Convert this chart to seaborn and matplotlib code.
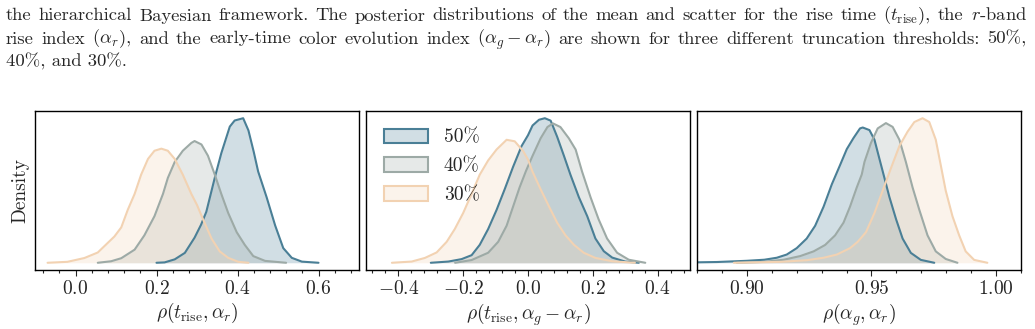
# Posterior densities of the correlation coefficients for three truncation thresholds

import numpy as np
import matplotlib
matplotlib.use('Agg')
import matplotlib.pyplot as plt
from matplotlib.patches import Patch
from matplotlib.ticker import AutoMinorLocator, MultipleLocator
from matplotlib.colors import to_rgba
import seaborn as sns

sns.set_style('ticks')
plt.rcParams['font.family'] = ['cmr10']
plt.rcParams['mathtext.fontset'] = 'cm'
plt.rcParams['axes.formatter.use_mathtext'] = True
plt.rcParams['axes.unicode_minus'] = True

labels = ['50%', '40%', '30%']
colors = ['#4a7f96', '#9daaa6', '#f2d2b2']

## rho(t_rise, alpha_r)
x1_50 = [0.20, 0.22, 0.245, 0.27, 0.294, 0.31, 0.323, 0.344, 0.36, 0.381, 0.393, 0.414, 0.427,
         0.44, 0.451, 0.472, 0.493, 0.513, 0.534, 0.559, 0.60]
y1_50 = [0, 0.02, 0.18, 0.52, 1.32, 2.0, 2.68, 4.48, 5.76, 7.16, 7.48, 7.6, 6.96,
         5.84, 4.8, 3.44, 1.96, 0.77, 0.26, 0.06, 0]
x1_40 = [0.055, 0.088, 0.113, 0.146, 0.170, 0.195, 0.216, 0.228, 0.245, 0.265, 0.286, 0.294,
         0.311, 0.327, 0.344, 0.36, 0.377, 0.398, 0.418, 0.439, 0.468, 0.52]
y1_40 = [0, 0.08, 0.24, 0.69, 1.44, 2.45, 3.62, 4.46, 5.3, 5.89, 6.3, 6.4,
         6.22, 5.63, 4.63, 3.62, 2.62, 1.61, 0.94, 0.35, 0.1, 0]
x1_30 = [-0.069, -0.02, 0.022, 0.055, 0.075, 0.096, 0.113, 0.129, 0.146, 0.162, 0.179, 0.195,
         0.212, 0.228, 0.245, 0.265, 0.286, 0.30, 0.315, 0.336, 0.356, 0.377, 0.402, 0.427]
y1_30 = [0, 0.05, 0.25, 0.54, 0.95, 1.38, 1.86, 2.78, 3.62, 4.63, 5.46, 5.89,
         6.0, 5.89, 5.46, 4.63, 3.62, 3.04, 2.28, 1.27, 0.6, 0.26, 0.05, 0]

## rho(t_rise, alpha_g - alpha_r)
x2_50 = [-0.30, -0.246, -0.205, -0.174, -0.149, -0.123, -0.097, -0.072, -0.046, -0.020, 0.0,
         0.014, 0.034, 0.052, 0.07, 0.09, 0.111, 0.131, 0.157, 0.183, 0.208, 0.234, 0.26, 0.30, 0.342]
y2_50 = [0, 0.04, 0.12, 0.25, 0.59, 1.11, 1.74, 2.42, 3.16, 3.84, 4.2,
         4.52, 4.71, 4.76, 4.68, 4.15, 3.52, 2.9, 2.16, 1.53, 0.8, 0.38, 0.17, 0.04, 0]
x2_40 = [-0.225, -0.174, -0.123, -0.092, -0.066, -0.046, -0.026, -0.006, 0.014, 0.039, 0.06,
         0.077, 0.10, 0.126, 0.147, 0.167, 0.193, 0.218, 0.244, 0.275, 0.311, 0.362]
y2_40 = [0, 0.09, 0.33, 0.69, 1.22, 1.85, 2.48, 3.03, 3.52, 4.1, 4.47,
         4.59, 4.47, 4.1, 3.73, 3.0, 2.16, 1.43, 0.8, 0.33, 0.1, 0]
x2_30 = [-0.42, -0.359, -0.318, -0.282, -0.251, -0.226, -0.2, -0.174, -0.149, -0.123, -0.097,
         -0.066, -0.041, -0.015, 0.0, 0.014, 0.039, 0.065, 0.09, 0.116, 0.142, 0.172, 0.208, 0.26, 0.33]
y2_30 = [0, 0.04, 0.16, 0.34, 0.69, 1.11, 1.64, 2.27, 2.9, 3.37, 3.73,
         4.05, 4.0, 3.68, 3.4, 3.0, 2.42, 1.85, 1.32, 0.9, 0.59, 0.33, 0.16, 0.05, 0]

## rho(alpha_g, alpha_r)
x3_50 = [0.88, 0.888, 0.9, 0.907, 0.912, 0.916, 0.920, 0.924, 0.9274, 0.9308, 0.9341, 0.9374, 0.9401,
         0.9428, 0.9454, 0.9465, 0.9492, 0.9512, 0.9532, 0.9552, 0.9572, 0.9599, 0.9625, 0.9658, 0.9698, 0.9752]
y3_50 = [0.12, 0.2, 0.52, 0.8, 1.32, 2.16, 3.84, 6.36, 9.72, 14.76, 20.64, 25.68, 29.88,
         32.8, 35.32, 35.56, 34.88, 32.36, 27.32, 22.32, 17.28, 11.4, 6.36, 2.6, 0.76, 0]
x3_40 = [0.896, 0.907, 0.9148, 0.9214, 0.9268, 0.9314, 0.9354, 0.9388, 0.9414, 0.9441, 0.9461, 0.9472,
         0.9498, 0.9525, 0.9558, 0.9585, 0.9612, 0.9638, 0.9665, 0.9692, 0.9725, 0.9758, 0.9798, 0.9845]
y3_40 = [0, 0.24, 0.8, 1.76, 3.0, 4.68, 7.2, 10.56, 14.76, 19.8, 23.2, 26.52,
         31.52, 35.32, 36.72, 35.72, 32.36, 26.52, 19.8, 13.92, 7.2, 3.0, 1.0, 0]
x3_30 = [0.8948, 0.9134, 0.9241, 0.9308, 0.9361, 0.9414, 0.9445, 0.9478, 0.9512, 0.9545, 0.9578, 0.9612,
         0.9645, 0.9672, 0.9705, 0.9732, 0.9758, 0.9778, 0.9798, 0.9825, 0.9852, 0.9878, 0.9912, 0.9965]
y3_30 = [0, 0.24, 0.68, 1.32, 2.16, 3.84, 5.52, 8.04, 13.08, 18.96, 24.84, 30.68,
         34.48, 37.0, 38.0, 37.0, 32.36, 25.68, 18.96, 12.24, 7.2, 3.0, 0.76, 0]

panels = [
    ([(x1_50, y1_50), (x1_40, y1_40), (x1_30, y1_30)], (-0.1, 0.7), 0.2,
     r'$\rho(t_{\mathrm{rise}}, \alpha_r)$'),
    ([(x2_50, y2_50), (x2_40, y2_40), (x2_30, y2_30)], (-0.5, 0.5), 0.2,
     r'$\rho(t_{\mathrm{rise}}, \alpha_g - \alpha_r)$'),
    ([(x3_50, y3_50), (x3_40, y3_40), (x3_30, y3_30)], (0.88, 1.01), 0.05,
     r'$\rho(\alpha_g, \alpha_r)$'),
]

# caption text above the figure (first two lines justified)
caption = [
    r'the hierarchical Bayesian framework. The posterior distributions of the mean and scatter for the rise time ($t_{\mathrm{rise}}$), the $r$-band',
    r'rise index ($\alpha_r$), and the early-time color evolution index ($\alpha_g - \alpha_r$) are shown for three different truncation thresholds: 50%,',
    r'40%, and 30%.',
]


def split_words(s):
    # split on spaces that are not inside $...$
    words, cur, in_math = [], '', False
    for ch in s:
        if ch == '$':
            in_math = not in_math
        if ch == ' ' and not in_math:
            words.append(cur)
            cur = ''
        else:
            cur += ch
    words.append(cur)
    return words


W, H = 1035, 329
fig = plt.figure(figsize=(W / 100, H / 100), dpi=100)
renderer = fig.canvas.get_renderer()

fs_cap = 13.4
x0, x1 = 6, 1027
for i, line in enumerate(caption):
    yb = 1 - (20.5 + 23 * i) / H
    if i == len(caption) - 1:
        fig.text(x0 / W, yb, line, fontsize=fs_cap, va='baseline', ha='left')
        continue
    words = split_words(line)
    texts = [fig.text(0, yb, w, fontsize=fs_cap, va='baseline', ha='left') for w in words]
    widths = [t.get_window_extent(renderer).width for t in texts]
    gap = (x1 - x0 - sum(widths)) / (len(words) - 1)
    pos = x0
    for t, w in zip(texts, widths):
        t.set_x(pos / W)
        pos += w + gap

lefts = [35, 366, 697]
for k, (curves, xlim, major, xlabel) in enumerate(panels):
    ax = fig.add_axes([lefts[k] / W, 59 / H, 324 / W, 159 / H])
    for (x, y), c in zip(curves, colors):
        ax.fill_between(x, y, color=c, alpha=0.25, lw=0)
        sns.lineplot(x=x, y=y, ax=ax, color=c, lw=1.5, sort=False)
    ax.set_xlim(*xlim)
    ax.xaxis.set_major_locator(MultipleLocator(major))
    ax.xaxis.set_minor_locator(AutoMinorLocator(5))
    ax.set_yticks([])
    ax.tick_params(axis='x', which='major', direction='out', length=4, width=0.8, labelsize=14)
    ax.tick_params(axis='x', which='minor', direction='out', length=2, width=0.8)
    for s in ax.spines.values():
        s.set_linewidth(1.0)
        s.set_color('black')
    ax.set_xlabel(xlabel, fontsize=14, labelpad=2)
    if k == 0:
        ax.set_ylabel('Density', fontsize=14, labelpad=4)
    else:
        ax.set_ylabel('')
    if k == 1:
        handles = [Patch(facecolor=to_rgba(c, 0.25), edgecolor=c, lw=1.5) for c in colors]
        ax.legend(handles, labels, loc='upper left', frameon=False, fontsize=14,
                  handlelength=2.3, handleheight=0.8, labelspacing=0.55,
                  handletextpad=0.8, borderaxespad=0.5)

plt.savefig('out.png', dpi=100)
